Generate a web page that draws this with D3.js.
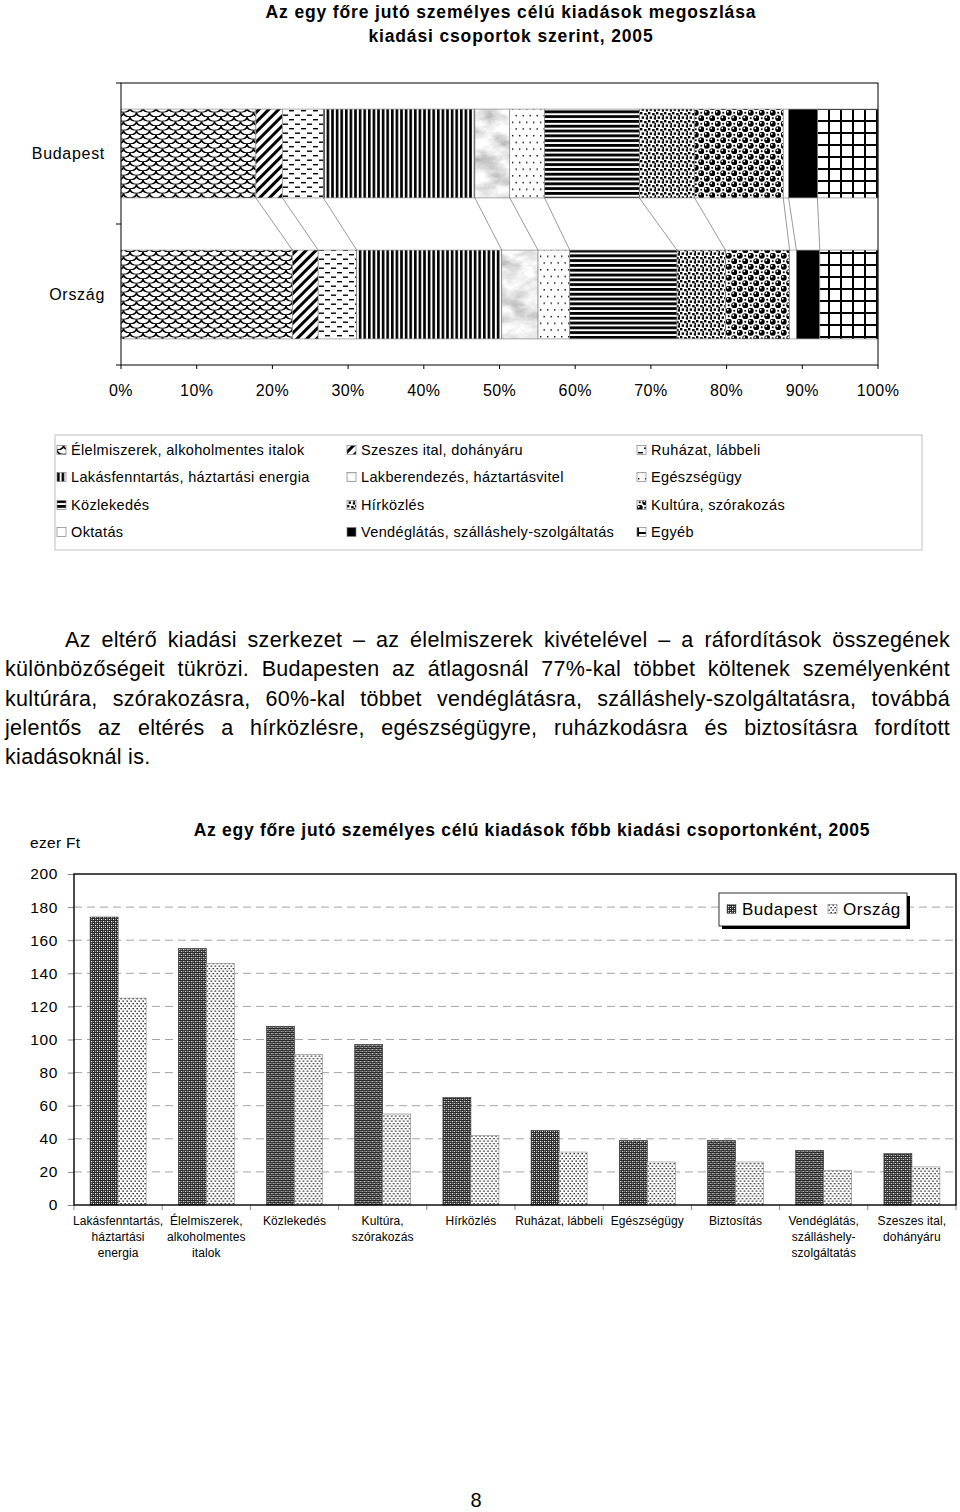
<!DOCTYPE html>
<html><head><meta charset="utf-8">
<script src="https://cdn.jsdelivr.net/npm/d3@7"></script>
<style>
body{margin:0;background:#fff}
svg{display:block}
text{font-family:"Liberation Sans",Arial,sans-serif;fill:#000}
</style>
</head><body>
<svg id="c" width="960" height="1512"></svg>
<script>
// ---------- DATA ----------
const titleLines = ["Az egy főre jutó személyes célú kiadások megoszlása", "kiadási csoportok szerint, 2005"];
const groups = ["Élelmiszerek, alkoholmentes italok", "Szeszes ital, dohányáru", "Ruházat, lábbeli",
  "Lakásfenntartás, háztartási energia", "Lakberendezés, háztartásvitel", "Egészségügy",
  "Közlekedés", "Hírközlés", "Kultúra, szórakozás",
  "Oktatás", "Vendéglátás, szálláshely-szolgáltatás", "Egyéb"];
const rows = ["Budapest", "Ország"];
const budapestShare = [17.8, 3.5, 5.4, 20.0, 4.6, 4.6, 12.5, 7.3, 11.7, 0.7, 3.8, 8.0];
const orszagShare   = [22.7, 3.4, 5.1, 19.2, 4.8, 4.2, 14.2, 6.4, 8.5, 0.9, 3.1, 7.7];
const pctTicks = [0, 0.1, 0.2, 0.3, 0.4, 0.5, 0.6, 0.7, 0.8, 0.9, 1.0];

const paragraphLines = [
  "Az eltérő kiadási szerkezet – az élelmiszerek kivételével – a ráfordítások összegének",
  "különbözőségeit tükrözi. Budapesten az átlagosnál 77%-kal többet költenek személyenként",
  "kultúrára, szórakozásra, 60%-kal többet vendéglátásra, szálláshely-szolgáltatásra, továbbá",
  "jelentős az eltérés a hírközlésre, egészségügyre, ruházkodásra és biztosításra fordított",
  "kiadásoknál is."
];

const barTitle = "Az egy főre jutó személyes célú kiadások főbb kiadási csoportonként, 2005";
const unitLabel = "ezer Ft";
const categories = ["Lakásfenntartás,\nháztartási\nenergia", "Élelmiszerek,\nalkoholmentes\nitalok", "Közlekedés",
  "Kultúra,\nszórakozás", "Hírközlés", "Ruházat, lábbeli", "Egészségügy", "Biztosítás",
  "Vendéglátás,\nszálláshely-\nszolgáltatás", "Szeszes ital,\ndohányáru"];
const seriesNames = ["Budapest", "Ország"];
const budapestValues = [174, 155, 108, 97, 65, 45, 39, 39, 33, 31];
const orszagValues   = [125, 146, 91, 55, 42, 32, 26, 26, 21, 23];
const yTicks = [0, 20, 40, 60, 80, 100, 120, 140, 160, 180, 200];
const pageNumber = "8";

// ---------- SETUP ----------
const svg = d3.select("#c");
svg.append("rect").attr("width", 960).attr("height", 1512).attr("fill", "#fff");
const defs = svg.append("defs");

function pat(id, w, h, draw, transform) {
  const p = defs.append("pattern").attr("id", id).attr("patternUnits", "userSpaceOnUse")
    .attr("width", w).attr("height", h);
  if (transform) p.attr("patternTransform", transform);
  p.append("rect").attr("width", w).attr("height", h).attr("fill", "#fff");
  draw(p);
}
// marble filter
const f = defs.append("filter").attr("id", "fMarble").attr("x", 0).attr("y", 0).attr("width", 1).attr("height", 1);
f.append("feTurbulence").attr("type", "fractalNoise").attr("baseFrequency", "0.035 0.06").attr("numOctaves", 4).attr("seed", 7);
f.append("feColorMatrix").attr("type", "matrix")
  .attr("values", "1.3 0 0 0 0.17  1.3 0 0 0 0.17  1.3 0 0 0 0.17  0 0 0 0 1");

// 0 fish scales
pat("p0", 13, 9, p => {
  const rowsY = [-9, -4.5, 0, 4.5, 9];
  rowsY.forEach((y, k) => {
    const off = (k % 2 === 0) ? 0 : 6.5;
    for (let x = off - 13; x <= 13; x += 13) {
      p.append("path").attr("d", `M${x},${y} A6.5,4.5 0 0 0 ${x + 13},${y} Z`).attr("fill", "#fff");
      p.append("path").attr("d", `M${x},${y} A6.5,4.5 0 0 0 ${x + 13},${y}`).attr("fill", "none")
        .attr("stroke", "#000").attr("stroke-width", 1.6);
    }
  });
});
// 1 diagonal thick
pat("p1", 7, 7, p => p.append("rect").attr("width", 3).attr("height", 7).attr("fill", "#000"), "rotate(45)");
// 2 dashes
pat("p2", 12, 9, p => {
  p.append("rect").attr("x", 1).attr("y", 2).attr("width", 5).attr("height", 1.4).attr("fill", "#000");
  p.append("rect").attr("x", 7).attr("y", 6.5).attr("width", 5).attr("height", 1.4).attr("fill", "#000");
});
// 3 vertical stripes
pat("p3", 4.6, 10, p => p.append("rect").attr("width", 2.6).attr("height", 10).attr("fill", "#000"));
// 4 marble
pat("p4", 90, 120, p => p.append("rect").attr("width", 90).attr("height", 120).attr("filter", "url(#fMarble)"));
// 5 sparse dots
pat("p5", 7, 13.4, p => {
  p.append("rect").attr("x", 1).attr("y", 1).attr("width", 1.4).attr("height", 1.4).attr("fill", "#000");
  p.append("rect").attr("x", 4.5).attr("y", 7.7).attr("width", 1.4).attr("height", 1.4).attr("fill", "#000");
});
// 6 horizontal stripes
pat("p6", 10, 4.8, p => p.append("rect").attr("width", 10).attr("height", 2.8).attr("fill", "#000"));
// 7 confetti squares
pat("p7", 8, 8, p => {
  [[0, 0], [4.2, 1], [1.6, 4.4], [5.8, 5.2], [6.5, 2.8]].forEach(([x, y]) =>
    p.append("rect").attr("x", x).attr("y", y).attr("width", 2.4).attr("height", 2.4).attr("fill", "#000"));
});
// 8 spheres
pat("p8", 11, 11, p => {
  [[2.75, 2.75], [8.25, 8.25]].forEach(([x, y]) => {
    p.append("circle").attr("cx", x).attr("cy", y).attr("r", 3).attr("fill", "#000");
    p.append("circle").attr("cx", x - 1).attr("cy", y - 1).attr("r", 0.9).attr("fill", "#fff");
  });
  [[8.25, 2.75], [2.75, 8.25]].forEach(([x, y]) =>
    p.append("rect").attr("x", x - 0.9).attr("y", y - 0.9).attr("width", 1.8).attr("height", 1.8).attr("fill", "#000"));
});
// 9 white
pat("p9", 10, 10, p => {});
// 10 black
pat("p10", 10, 10, p => p.append("rect").attr("width", 10).attr("height", 10).attr("fill", "#000"));
// 11 grid
pat("p11", 12, 12, p => {
  p.append("rect").attr("x", 0).attr("width", 2).attr("height", 12).attr("fill", "#000");
  p.append("rect").attr("y", 0).attr("width", 12).attr("height", 2).attr("fill", "#000");
});
// bottom chart patterns
pat("pB", 4, 4, p => {
  p.append("rect").attr("width", 4).attr("height", 4).attr("fill", "#2a2a2a");
  p.append("rect").attr("x", 1).attr("y", 1).attr("width", 1.2).attr("height", 1.2).attr("fill", "#fff");
  p.append("rect").attr("x", 3).attr("y", 3).attr("width", 1.2).attr("height", 1.2).attr("fill", "#fff");
  p.append("rect").attr("x", 1).attr("y", 3).attr("width", 1).attr("height", 1).attr("fill", "#999");
  p.append("rect").attr("x", 3).attr("y", 1).attr("width", 1).attr("height", 1).attr("fill", "#999");
});
pat("pC", 4, 5, p => {
  p.append("rect").attr("x", 0.5).attr("y", 0.5).attr("width", 1.3).attr("height", 1.3).attr("fill", "#000");
  p.append("rect").attr("x", 2.5).attr("y", 3).attr("width", 1.3).attr("height", 1.3).attr("fill", "#000");
});
const seriesFill = ["url(#pB)", "url(#pC)"];

// ---------- TOP CHART ----------
const tt = svg.append("g");
tt.selectAll("text.t").data(titleLines).join("text")
  .attr("x", 511).attr("y", (d, i) => 18 + i * 24).attr("text-anchor", "middle")
  .attr("font-size", 17.5).attr("font-weight", "bold").attr("letter-spacing", 0.85).text(d => d);

const xTop = d3.scaleLinear().domain([0, 1]).range([121, 878]);
const yTop = d3.scaleBand().domain(rows).range([83, 365]).paddingInner(0.37).paddingOuter(0.185);
const table = rows.map((r, i) => {
  const o = { row: r };
  const src = i === 0 ? budapestShare : orszagShare;
  groups.forEach((g, j) => o[g] = src[j]);
  return o;
});
const stacked = d3.stack().keys(groups).offset(d3.stackOffsetExpand)(table);

const gTop = svg.append("g");
gTop.selectAll("g.s").data(stacked).join("g")
  .attr("fill", (d, i) => `url(#p${i})`)
  .selectAll("rect").data(d => d).join("rect")
  .attr("x", d => xTop(d[0])).attr("width", d => xTop(d[1]) - xTop(d[0]))
  .attr("y", d => yTop(d.data.row)).attr("height", yTop.bandwidth())
  .attr("stroke", "#8a8a8a").attr("stroke-width", 0.7);

gTop.selectAll("line.sl").data(stacked.slice(0, groups.length - 1)).join("line")
  .attr("x1", d => xTop(d[0][1])).attr("y1", yTop(rows[0]) + yTop.bandwidth())
  .attr("x2", d => xTop(d[1][1])).attr("y2", yTop(rows[1]))
  .attr("stroke", "#808080").attr("stroke-width", 0.8);

gTop.append("rect").attr("x", 121).attr("y", 83).attr("width", 757).attr("height", 282)
  .attr("fill", "none").attr("stroke", "#000").attr("stroke-width", 1);
[83, 224, 365].forEach(y => gTop.append("line").attr("x1", 116).attr("x2", 121).attr("y1", y).attr("y2", y)
  .attr("stroke", "#000").attr("stroke-width", 1));
gTop.selectAll("text.r").data(rows).join("text")
  .attr("x", 105).attr("y", d => yTop(d) + yTop.bandwidth() / 2).attr("dy", "0.35em")
  .attr("text-anchor", "end").attr("font-size", 16).attr("letter-spacing", 0.7).text(d => d);
gTop.selectAll("line.pt").data(pctTicks).join("line")
  .attr("x1", d => xTop(d)).attr("x2", d => xTop(d)).attr("y1", 365).attr("y2", 369)
  .attr("stroke", "#000").attr("stroke-width", 1);
gTop.selectAll("text.p").data(pctTicks).join("text")
  .attr("x", d => xTop(d)).attr("y", 390).attr("dy", "0.35em").attr("text-anchor", "middle")
  .attr("font-size", 16).attr("letter-spacing", 0.4).text(d => d3.format(".0%")(d));

const lg = svg.append("g");
lg.append("rect").attr("x", 55).attr("y", 435).attr("width", 867).attr("height", 115)
  .attr("fill", "none").attr("stroke", "#c0c0c0").attr("stroke-width", 1);
const colX = [57, 347, 637], rowY = [450, 477, 505, 532];
const li = lg.selectAll("g.li").data(groups).join("g")
  .attr("transform", (d, i) => `translate(${colX[i % 3]},${rowY[Math.floor(i / 3)]})`);
li.append("rect").attr("x", 0).attr("y", -4.5).attr("width", 9).attr("height", 9)
  .attr("fill", (d, i) => `url(#p${i})`).attr("stroke", "#808080").attr("stroke-width", 0.7);
li.append("text").attr("x", 14).attr("dy", "0.35em").attr("font-size", 14.5).attr("letter-spacing", 0.35).text(d => d);

// ---------- PARAGRAPH ----------
paragraphLines.forEach((line, i) => {
  const x0 = i === 0 ? 65 : 5;
  const t = svg.append("text").attr("x", x0).attr("y", 647 + i * 29.3)
    .attr("font-size", 21.5).attr("letter-spacing", 0.3).text(line);
  if (i < paragraphLines.length - 1) {
    const len = t.node().getComputedTextLength();
    const spaces = (line.match(/ /g) || []).length;
    t.attr("word-spacing", (950 - x0 - len) / spaces);
  }
});

// ---------- BAR CHART ----------
const gb = svg.append("g");
gb.append("text").attr("x", 532).attr("y", 836).attr("text-anchor", "middle")
  .attr("font-size", 17.5).attr("font-weight", "bold").attr("letter-spacing", 0.7).text(barTitle);
gb.append("text").attr("x", 30).attr("y", 843).attr("dy", "0.35em").attr("font-size", 15.5).attr("letter-spacing", 0.3).text(unitLabel);

const xB = d3.scaleBand().domain(categories).range([74, 956]);
const xSub = d3.scaleBand().domain(seriesNames).range([0, xB.bandwidth()]).paddingInner(0).paddingOuter(0.575);
const yB = d3.scaleLinear().domain([0, 200]).range([1205, 874]);

gb.selectAll("line.g").data(yTicks.filter(v => v > 0 && v < 200)).join("line")
  .attr("x1", 74).attr("x2", 956).attr("y1", d => yB(d)).attr("y2", d => yB(d))
  .attr("stroke", "#9a9a9a").attr("stroke-width", 0.9).attr("stroke-dasharray", "8,5");

const yAxis = gb.append("g").attr("transform", "translate(74,0)")
  .call(d3.axisLeft(yB).tickValues(yTicks).tickSize(6).tickPadding(10));
yAxis.select(".domain").remove();
yAxis.selectAll(".tick line").attr("stroke", "#888");
yAxis.selectAll(".tick text").attr("font-size", 15.5).attr("letter-spacing", 0.6)
  .attr("font-family", '"Liberation Sans",Arial,sans-serif').attr("fill", "#000");

const barData = categories.map((c, i) => ({ cat: c, vals: [budapestValues[i], orszagValues[i]] }));
const cg = gb.selectAll("g.cat").data(barData).join("g").attr("transform", d => `translate(${xB(d.cat)},0)`);
cg.selectAll("rect").data(d => d.vals.map((v, j) => ({ s: seriesNames[j], v, j }))).join("rect")
  .attr("x", d => xSub(d.s)).attr("width", xSub.bandwidth())
  .attr("y", d => yB(d.v)).attr("height", d => yB(0) - yB(d.v))
  .attr("fill", d => seriesFill[d.j]).attr("stroke", d => d.j === 0 ? "#333" : "#888").attr("stroke-width", 0.6);

const bounds = categories.map(c => xB(c)).concat([956]);
gb.selectAll("line.xt").data(bounds).join("line")
  .attr("x1", d => d).attr("x2", d => d).attr("y1", 1205).attr("y2", 1210)
  .attr("stroke", "#888").attr("stroke-width", 1);
const xl = gb.selectAll("text.xl").data(categories).join("text")
  .attr("x", d => xB(d) + xB.bandwidth() / 2).attr("y", 1225).attr("text-anchor", "middle")
  .attr("font-size", 12).attr("letter-spacing", 0.1);
xl.selectAll("tspan").data(d => d.split("\n")).join("tspan")
  .attr("x", function () { return d3.select(this.parentNode).attr("x"); })
  .attr("dy", (d, i) => i === 0 ? 0 : 16).text(d => d);

gb.append("rect").attr("x", 74).attr("y", 874).attr("width", 882).attr("height", 331)
  .attr("fill", "none").attr("stroke", "#000").attr("stroke-width", 1.4);

const bl = gb.append("g");
bl.append("rect").attr("x", 722).attr("y", 896).attr("width", 188).attr("height", 33).attr("fill", "#000");
bl.append("rect").attr("x", 719).attr("y", 893).attr("width", 188).attr("height", 33)
  .attr("fill", "#fff").attr("stroke", "#000").attr("stroke-width", 0.8);
const blX = [727, 828];
const bli = bl.selectAll("g.bi").data(seriesNames).join("g").attr("transform", (d, i) => `translate(${blX[i]},909)`);
bli.append("rect").attr("y", -4.5).attr("width", 9).attr("height", 9).attr("fill", (d, i) => seriesFill[i])
  .attr("stroke", "#666").attr("stroke-width", 0.5);
bli.append("text").attr("x", 15).attr("dy", "0.35em").attr("font-size", 17).attr("letter-spacing", 0.5).text(d => d);

svg.append("text").attr("x", 476).attr("y", 1507).attr("text-anchor", "middle").attr("font-size", 20).text(pageNumber);
</script>
</body></html>
